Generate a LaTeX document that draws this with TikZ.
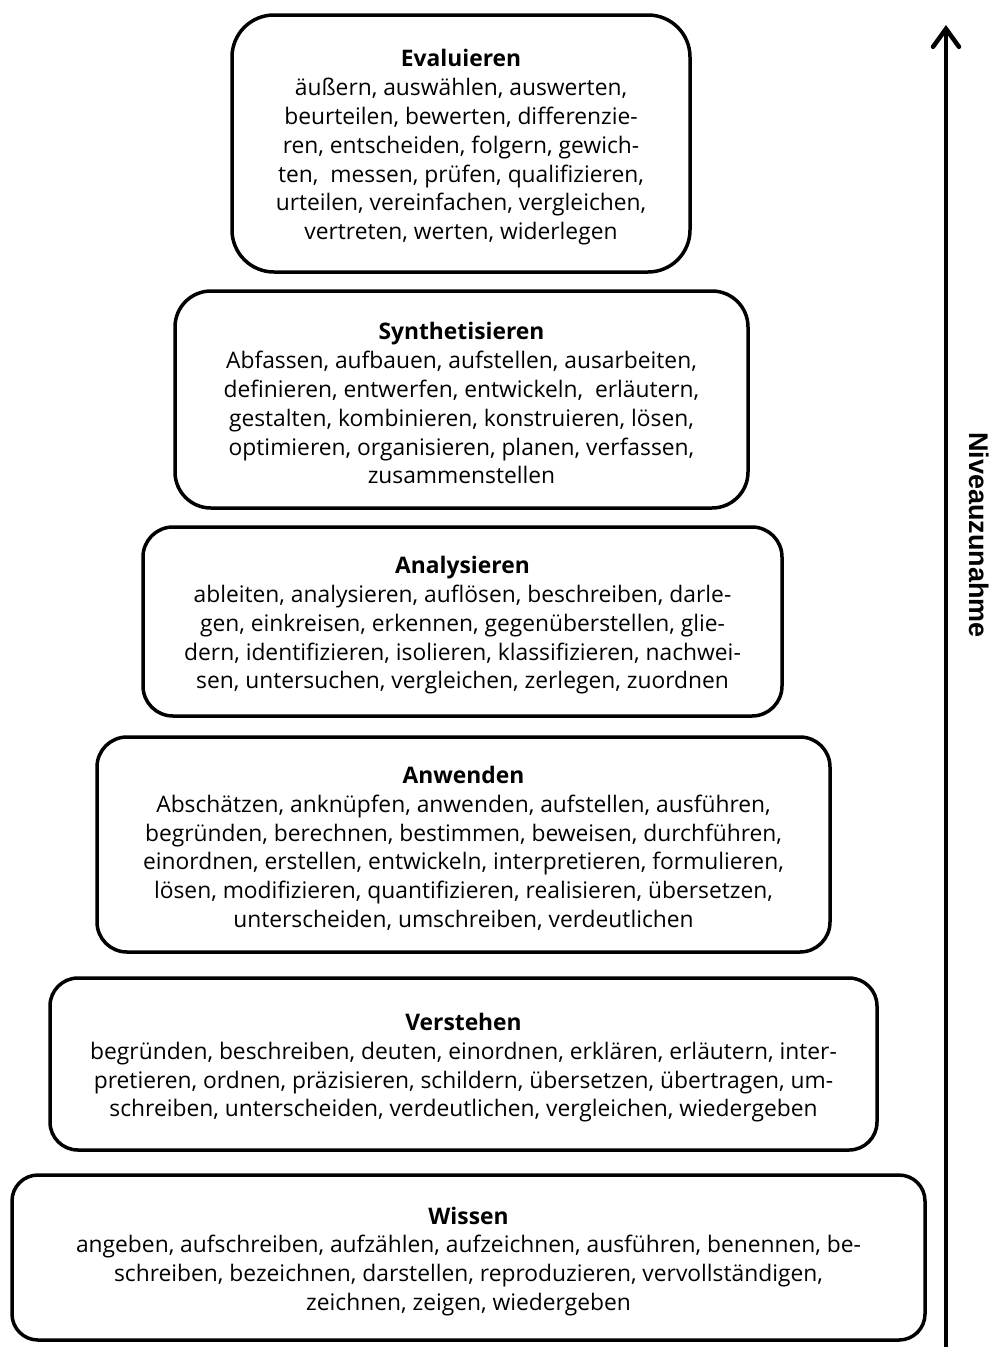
\documentclass[tikz,border=0pt]{standalone}
\usepackage{fontspec}
\setmainfont{Open Sans}
\newfontfamily\arrowfont{Liberation Sans}
\usetikzlibrary{arrows.meta}
\newcommand{\tiertitle}[1]{\rule{0pt}{25pt}\textbf{#1}}

\begin{document}
\begin{tikzpicture}[x=1pt,y=-1pt,line join=round,
  tier/.style={draw,line width=3.5pt,rounded corners=30pt,align=center,
    inner sep=0pt,font=\fontsize{22.8}{28.8}\selectfont}]

\useasboundingbox (0,0) rectangle (998,1347);

% Node: Evaluieren
\node (eval) [tier,rounded corners=42pt,minimum width=458pt,minimum height=257pt] at (461,143.5)
  {\tiertitle{Evaluieren}\\
   äußern, auswählen, auswerten,\\
   beurteilen, bewerten, differenzie-\\
   ren, entscheiden, folgern, gewich-\\
   ten,\ \ messen, prüfen, qualifizieren,\\
   urteilen, vereinfachen, vergleichen,\\
   vertreten, werten, widerlegen};

% Node: Synthetisieren
\node (synth) [tier,rounded corners=36pt,minimum width=573pt,minimum height=217pt] at (461.5,399.5)
  {\tiertitle{Synthetisieren}\\
   Abfassen, aufbauen, aufstellen, ausarbeiten,\\
   definieren, entwerfen, entwickeln,\ \ erläutern,\\
   gestalten, kombinieren, konstruieren, lösen,\\
   optimieren, organisieren, planen, verfassen,\\
   zusammenstellen};

% Node: Analysieren
\node (anal) [tier,minimum width=639pt,minimum height=189pt] at (462.5,621.5)
  {\tiertitle{Analysieren}\\
   ableiten, analysieren, auflösen, beschreiben, darle-\\
   gen, einkreisen, erkennen, gegenüberstellen, glie-\\
   dern, identifizieren, isolieren, klassifizieren, nachwei-\\
   sen, untersuchen, vergleichen, zerlegen, zuordnen};

% Node: Anwenden
\node (anw) [tier,minimum width=733pt,minimum height=215pt] at (463.5,844.5)
  {\tiertitle{Anwenden}\\
   Abschätzen, anknüpfen, anwenden, aufstellen, ausführen,\\
   begründen, berechnen, bestimmen, beweisen, durchführen,\\
   einordnen, erstellen, entwickeln, interpretieren, formulieren,\\
   lösen, modifizieren, quantifizieren, realisieren, übersetzen,\\
   unterscheiden, umschreiben, verdeutlichen};

% Node: Verstehen
\node (verst) [tier,rounded corners=28pt,minimum width=827pt,minimum height=172pt] at (463.5,1064)
  {\tiertitle{Verstehen}\\
   begründen, beschreiben, deuten, einordnen, erklären, erläutern, inter-\\
   pretieren, ordnen, präzisieren, schildern, übersetzen, übertragen, um-\\
   schreiben, unterscheiden, verdeutlichen, vergleichen, wiedergeben};

% Node: Wissen
\node (wiss) [tier,rounded corners=26pt,minimum width=913pt,minimum height=165pt] at (468.5,1257.5)
  {\tiertitle{Wissen}\\
   angeben, aufschreiben, aufzählen, aufzeichnen, ausführen, benennen, be-\\
   schreiben, bezeichnen, darstellen, reproduzieren, vervollständigen,\\
   zeichnen, zeigen, wiedergeben};

% Edge: base -> top
\coordinate (base) at (946,1347);
\coordinate (top) at (946,25);
\draw [line width=4.5pt,-{Straight Barb[length=18pt,width=26pt,line cap=round]}] (base) -- (top);

% Label: Niveauzunahme
\node (niveau) [rotate=-90,font=\arrowfont\bfseries\fontsize{27}{30}\selectfont] at (979,535) {Niveauzunahme};

\end{tikzpicture}
\end{document}
